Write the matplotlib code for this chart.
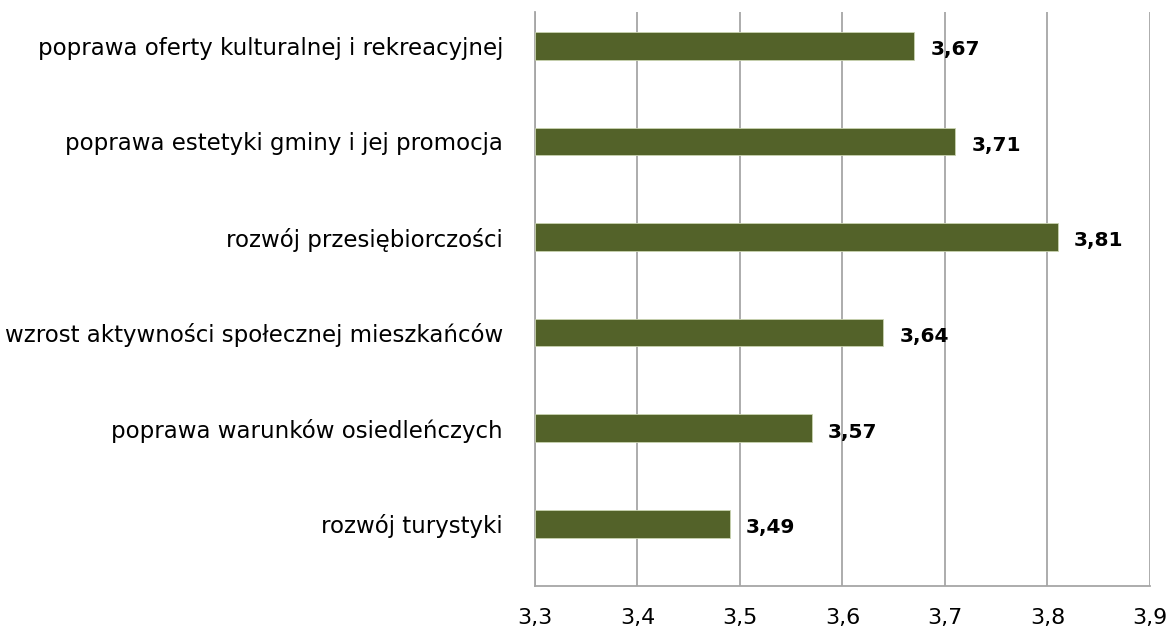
import matplotlib.pyplot as plt
from matplotlib.ticker import FixedLocator, FuncFormatter

categories = ["poprawa oferty kulturalnej i rekreacyjnej",
              "poprawa estetyki gminy i jej promocja",
              "rozwój przesiębiorczości",
              "wzrost aktywności społecznej mieszkańców",
              "poprawa warunków osiedleńczych",
              "rozwój turystyki"]
values = [3.67, 3.71, 3.81, 3.64, 3.57, 3.49]
x_ticks = [3.3, 3.4, 3.5, 3.6, 3.7, 3.8, 3.9]

plt.rcParams['font.family'] = ['DejaVu Sans']

fig = plt.figure(figsize=(11.68, 6.32), dpi=100)
ax = fig.add_axes([0.458, 0.073, 0.5265, 0.908])

ypos = list(range(len(categories)))
base = 3.3
ax.barh(ypos, [v - base for v in values], left=base, height=0.29,
        color="#536229", edgecolor="#c9d3b0", linewidth=0.6, zorder=3)

for y, v in zip(ypos, values):
    ax.text(v + 0.016, y + 0.04, ("%.2f" % v).replace(".", ","),
            ha="left", va="center", fontsize=14.5, fontweight="bold", zorder=4)

ax.set_xlim(3.3, 3.9)
ax.set_ylim(5.65, -0.355)
ax.xaxis.set_major_locator(FixedLocator(x_ticks))
ax.xaxis.set_major_formatter(FuncFormatter(lambda x, p: ("%.1f" % x).replace(".", ",")))
ax.set_yticks(ypos)
ax.set_yticklabels(categories)
ax.grid(axis="x", color="#a6a6a6", linewidth=1.3, zorder=0)
ax.tick_params(axis="x", length=0, pad=16, labelsize=16)
ax.tick_params(axis="y", length=0, pad=23, labelsize=16.5)
for s in ["top", "right"]:
    ax.spines[s].set_visible(False)
for s in ["left", "bottom"]:
    ax.spines[s].set_color("#a6a6a6")
    ax.spines[s].set_linewidth(1.3)

fig.savefig("out.png", dpi=100)
